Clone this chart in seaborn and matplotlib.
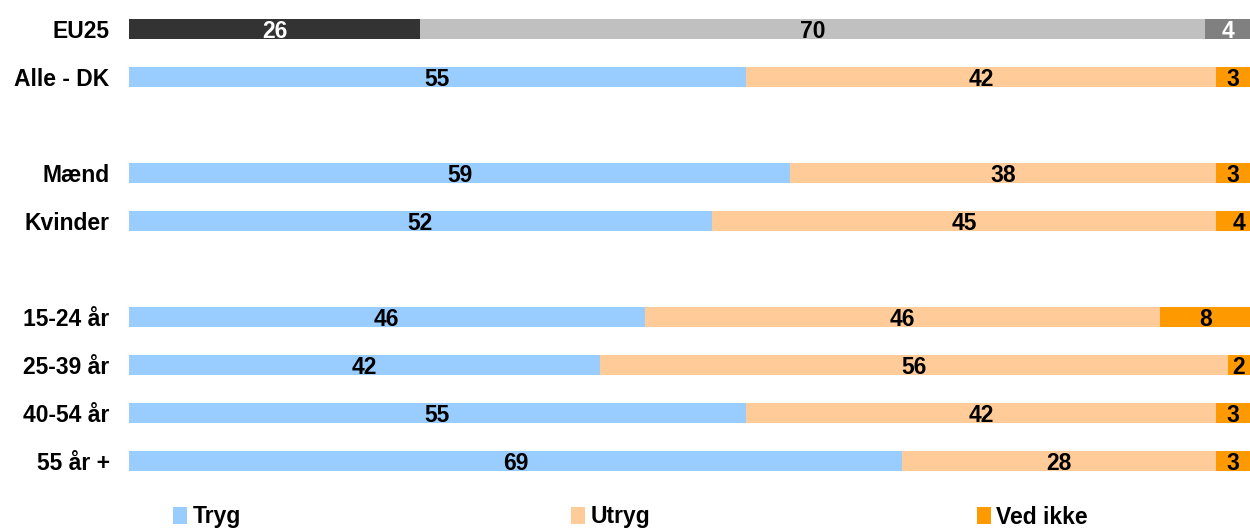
import numpy as np
import pandas as pd
import matplotlib
matplotlib.use("Agg")
import matplotlib.pyplot as plt
import seaborn as sns
from matplotlib.patches import Patch

order = ["EU25", "Alle - DK", " ", "Mænd", "Kvinder", "  ", "15-24 år", "25-39 år", "40-54 år", "55 år +"]
categories = ["EU25", "Alle - DK", "Mænd", "Kvinder", "15-24 år", "25-39 år", "40-54 år", "55 år +"]
tryg = [26, 55, 59, 52, 46, 42, 55, 69]
utryg = [70, 42, 38, 45, 46, 56, 42, 28]
ved_ikke = [4, 3, 3, 4, 8, 2, 3, 3]
legend_labels = ["Tryg", "Utryg", "Ved ikke"]

colors_dk = ["#99CCFF", "#FFCC99", "#FF9900"]
colors_eu = ["#333333", "#C0C0C0", "#808080"]
text_eu = ["white", "black", "white"]

sns.set_theme(style="white")
plt.rcParams["font.family"] = ["Liberation Sans", "DejaVu Sans"]
plt.rcParams["text.color"] = "black"

df = pd.DataFrame({"cat": categories, "Tryg": tryg, "Utryg": utryg, "Ved ikke": ved_ikke})
df["c1"] = df["Tryg"]
df["c2"] = df["Tryg"] + df["Utryg"]
df["c3"] = df["c2"] + df["Ved ikke"]

fig = plt.figure(figsize=(12.5, 5.31), dpi=100)
ax = fig.add_axes([129 / 1250, 1 - 485 / 531, 1121 / 1250, 480 / 531])

layers = ["c3", "c2", "c1"]
for li, col in enumerate(layers):
    idx = 2 - li
    pal = {c: (colors_eu[idx] if c == "EU25" else colors_dk[idx]) for c in categories}
    sns.barplot(data=df, x=col, y="cat", hue="cat", order=order, hue_order=categories,
                palette=pal, dodge=False, legend=False, width=0.42, saturation=1,
                ax=ax, orient="h", linewidth=0)

FS = 16.5
ypos = {c: order.index(c) for c in categories}
for i, row in df.iterrows():
    starts = [0, row["c1"], row["c2"]]
    vals = [row["Tryg"], row["Utryg"], row["Ved ikke"]]
    for k in range(3):
        col = text_eu[k] if row["cat"] == "EU25" else "black"
        ax.annotate(str(vals[k]), (starts[k] + vals[k] / 2, ypos[row["cat"]]),
                    xytext=(0, -1.5), textcoords="offset points",
                    ha="center", va="center", fontsize=FS, fontweight="bold", color=col)

ax.set_xlim(0, 100)
ax.set_ylim(9.5, -0.5)
ax.set_xlabel("")
ax.set_ylabel("")
ax.set_xticks([])
ax.tick_params(axis="y", length=0, pad=14)
for lab in ax.get_yticklabels():
    lab.set_fontsize(FS)
    lab.set_fontweight("bold")
    lab.set_color("black")
for s in ax.spines.values():
    s.set_visible(False)

xs = [173, 571, 977]
for k in range(3):
    h = Patch(facecolor=colors_dk[k], edgecolor="none")
    leg = fig.legend(handles=[h], labels=[legend_labels[k]], loc="center left",
                     bbox_to_anchor=(xs[k] / 1250, 1 - 517 / 531), frameon=False,
                     prop={"weight": "bold", "size": FS}, handlelength=0.6, handleheight=0.7,
                     handletextpad=0.25, borderpad=0, borderaxespad=0)
    for t in leg.get_texts():
        t.set_color("black")

fig.savefig("out.png", dpi=100)
